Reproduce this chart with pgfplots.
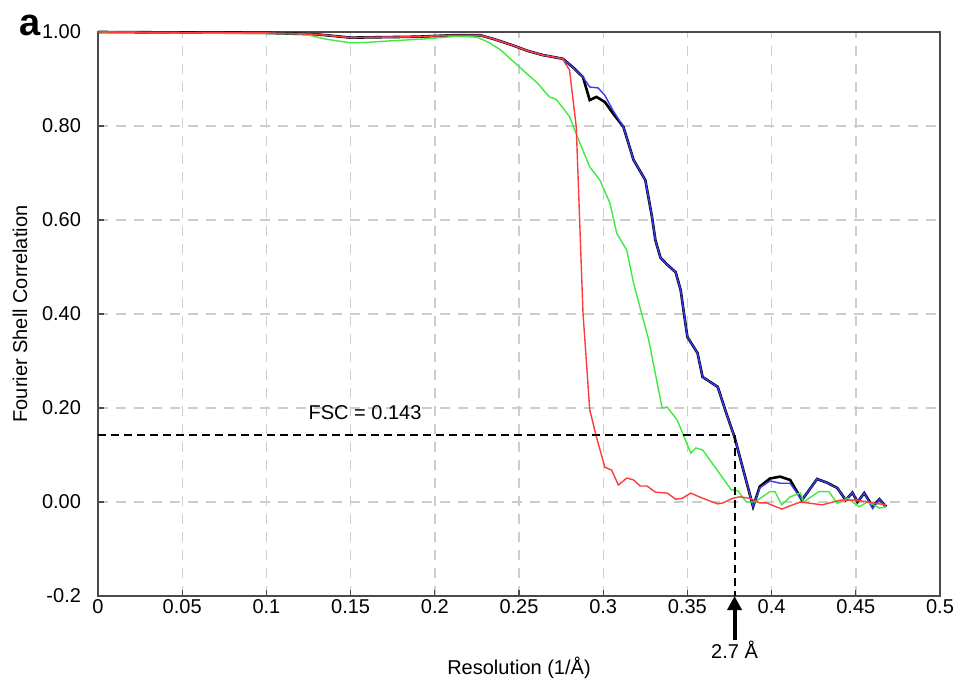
\documentclass[border=0pt]{standalone}
\usepackage{pgfplots}
\pgfplotsset{compat=1.18}
\usepackage{fontspec}
\setmainfont{Liberation Sans}
\usetikzlibrary{arrows.meta}
\definecolor{fscBlue}{HTML}{3A3AF0}
\definecolor{fscGreen}{HTML}{3FEA3F}
\definecolor{fscRed}{HTML}{FF3B3B}
\definecolor{gridGray}{HTML}{CDCDCD}
\definecolor{axGray}{HTML}{4A4A4A}

\begin{document}
\begin{tikzpicture}
\begin{axis}[
    scale only axis,
    width=421pt, height=282pt,
    xmin=0, xmax=0.5, ymin=-0.2, ymax=1.0,
    xtick={0,0.05,...,0.5},
    xticklabels={0,0.05,0.1,0.15,0.2,0.25,0.3,0.35,0.4,0.45,0.5},
    ytick={-0.2,0,0.2,0.4,0.6,0.8,1.0},
    yticklabels={-0.2,0.00,0.20,0.40,0.60,0.80,1.00},
    /pgf/number format/assume math mode=true,
    tick label style={font=\fontsize{10}{12}\selectfont},
    xticklabel style={inner sep=1pt, yshift=-0.5pt},
    yticklabel style={xshift=-5pt},
    tick align=inside,
    xtick pos=bottom, ytick pos=left,
    major tick length=3pt,
    tick style={axGray, line width=0.6pt},
    axis line style={axGray, line width=0.8pt},
    grid=major,
    major grid style={gridGray, line width=0.7pt, dash pattern=on 5pt off 4pt},
    clip=false,
]
  % black (corrected FSC)
  \addplot[black, line width=1.3pt, no marks] coordinates {
    (0,1.0) (0.05,0.999) (0.1,0.998) (0.13,0.995) (0.15,0.988) (0.17,0.989)
    (0.19,0.99) (0.21,0.993) (0.227,0.993) (0.235,0.985) (0.246,0.972)
    (0.255,0.96) (0.264,0.951) (0.276,0.943) (0.282,0.925) (0.288,0.904)
    (0.292,0.855) (0.296,0.862) (0.301,0.851) (0.306,0.826) (0.312,0.798)
    (0.318,0.728) (0.325,0.685) (0.329,0.606) (0.331,0.557) (0.334,0.52)
    (0.338,0.505) (0.343,0.489) (0.346,0.451) (0.348,0.40) (0.350,0.351)
    (0.356,0.317) (0.359,0.266) (0.368,0.245) (0.373,0.19) (0.378,0.138)
    (0.389,-0.01) (0.393,0.033) (0.399,0.05) (0.405,0.054) (0.411,0.047)
    (0.418,0.004) (0.427,0.049) (0.433,0.041) (0.439,0.03) (0.444,0.004)
    (0.448,0.02) (0.451,0) (0.455,0.019) (0.460,-0.01) (0.464,0.006) (0.468,-0.01)
  };
  % blue
  \addplot[fscBlue, line width=0.7pt, no marks] coordinates {
    (0,1.0) (0.05,0.999) (0.1,0.998) (0.13,0.995) (0.15,0.988) (0.17,0.989)
    (0.19,0.99) (0.21,0.993) (0.227,0.993) (0.235,0.985) (0.246,0.972)
    (0.255,0.96) (0.264,0.951) (0.276,0.943) (0.282,0.925) (0.288,0.904)
    (0.292,0.883) (0.297,0.881) (0.301,0.865) (0.306,0.832) (0.312,0.798)
    (0.318,0.728) (0.325,0.685) (0.329,0.606) (0.331,0.557) (0.334,0.52)
    (0.338,0.505) (0.343,0.489) (0.346,0.451) (0.348,0.40) (0.350,0.351)
    (0.356,0.317) (0.359,0.266) (0.368,0.245) (0.373,0.19) (0.378,0.138)
    (0.389,-0.01) (0.393,0.03) (0.399,0.045) (0.405,0.04) (0.411,0.04)
    (0.418,0.004) (0.427,0.049) (0.433,0.041) (0.439,0.03) (0.444,0.004)
    (0.448,0.02) (0.451,0) (0.455,0.019) (0.460,-0.014) (0.464,0.006) (0.468,-0.01)
  };
  % green
  \addplot[fscGreen, line width=0.7pt, no marks] coordinates {
    (0,1.0) (0.05,0.998) (0.1,0.997) (0.122,0.996) (0.135,0.985) (0.15,0.977)
    (0.16,0.978) (0.173,0.981) (0.193,0.985) (0.213,0.991) (0.225,0.989)
    (0.232,0.978) (0.239,0.962) (0.251,0.923) (0.261,0.891) (0.268,0.862)
    (0.272,0.857) (0.280,0.820) (0.286,0.765) (0.292,0.713) (0.298,0.685)
    (0.304,0.636) (0.308,0.572) (0.314,0.536) (0.318,0.466) (0.327,0.345)
    (0.335,0.20) (0.338,0.202) (0.344,0.174) (0.352,0.104) (0.355,0.115)
    (0.359,0.111) (0.376,0.026) (0.380,0.024) (0.385,0.0) (0.390,0.0)
    (0.399,0.022) (0.402,0.022) (0.406,-0.006) (0.411,0.011) (0.417,0.019)
    (0.419,0) (0.428,0.022) (0.434,0.022) (0.439,-0.003) (0.445,0.008)
    (0.452,-0.01) (0.457,0) (0.464,-0.013) (0.468,-0.01)
  };
  % red
  \addplot[fscRed, line width=0.7pt, no marks] coordinates {
    (0,1.0) (0.05,0.999) (0.1,0.998) (0.13,0.995) (0.15,0.988) (0.17,0.989)
    (0.19,0.99) (0.21,0.993) (0.227,0.993) (0.235,0.985) (0.246,0.972)
    (0.255,0.96) (0.264,0.951) (0.276,0.943) (0.277,0.936) (0.280,0.919)
    (0.284,0.798) (0.286,0.60) (0.288,0.402) (0.292,0.196) (0.296,0.138)
    (0.301,0.074) (0.305,0.068) (0.309,0.036) (0.314,0.051) (0.318,0.047)
    (0.322,0.034) (0.326,0.034) (0.331,0.021) (0.338,0.019) (0.343,0.006)
    (0.347,0.008) (0.352,0.019) (0.359,0.008) (0.368,-0.004) (0.371,-0.002)
    (0.377,0.008) (0.381,0.011) (0.387,0.008) (0.393,-0.002) (0.397,-0.002)
    (0.406,-0.015) (0.417,0) (0.430,-0.006) (0.441,0.004) (0.451,0.004)
    (0.460,-0.002) (0.468,-0.006)
  };

  % FSC = 0.143 threshold
  \draw[black, line width=1pt, dash pattern=on 4pt off 2.5pt]
    (axis cs:0,0.143) -- (axis cs:0.378,0.143) -- (axis cs:0.378,-0.2);
  \node[font=\fontsize{10}{12}\selectfont] at (axis cs:0.1586,0.191) {FSC = 0.143};

  % arrow and resolution label
  \draw[black, line width=2pt, -{Triangle[length=7pt, width=7pt]}]
    ([yshift=-22pt]axis cs:0.378,-0.2) -- (axis cs:0.378,-0.2);
  \node[font=\fontsize{10}{12}\selectfont] at ([yshift=-27pt]axis cs:0.378,-0.2) {2.7 Å};

  \node[font=\fontsize{10}{12}\selectfont] at ([yshift=-36pt]rel axis cs:0.5,0) {Resolution (1/Å)};
  \node[font=\fontsize{10}{12}\selectfont, rotate=90] at ([xshift=-39pt]rel axis cs:0,0.5) {Fourier Shell Correlation};
  \node[font=\fontsize{19}{20}\bfseries] at ([xshift=-34pt, yshift=3.5pt]rel axis cs:0,1) {a};

  % page extent as in the reference
  \path[use as bounding box] ([xshift=-49pt, yshift=-44.5pt]rel axis cs:0,0)
    rectangle ([xshift=10pt, yshift=16pt]rel axis cs:1,1);
\end{axis}
\end{tikzpicture}
\end{document}
